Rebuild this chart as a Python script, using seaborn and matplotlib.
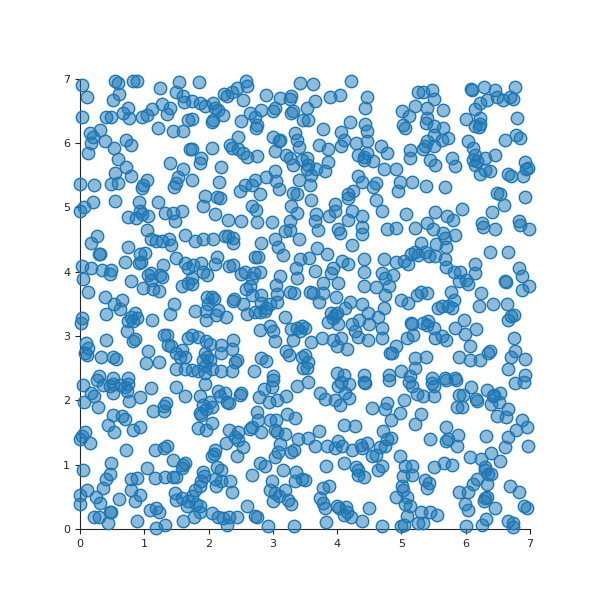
import numpy as np
import pandas as pd
import seaborn as sns
import matplotlib
matplotlib.use("Agg")
import matplotlib.pyplot as plt

# points, split in three horizontal bands (y 7-4.7, 4.7-2.3, 2.3-0)
top_band = [
    (0.04, 6.9), (0.11, 6.71), (0.55, 6.96), (0.59, 6.94), (0.83, 6.97), (0.88, 6.97), (1.25, 6.85),
    (1.54, 6.95), (1.49, 6.79), (1.6, 6.73), (0.61, 6.76), (0.51, 6.67), (0.04, 6.41), (0.41, 6.4),
    (0.49, 6.4), (0.67, 6.47), (0.75, 6.55), (0.77, 6.39), (0.96, 6.41), (1.04, 6.44), (1.12, 6.53),
    (1.27, 6.6), (1.4, 6.54), (1.36, 6.45), (1.68, 6.36), (1.62, 6.63), (1.22, 6.23), (1.44, 6.18),
    (1.6, 6.18), (0.16, 6.16), (0.2, 6.1), (0.17, 6.0), (0.13, 5.85), (0.31, 6.2), (0.39, 6.03),
    (0.53, 5.92), (0.71, 6.05), (0.8, 5.97), (0.6, 5.75), (1.71, 5.9), (0.71, 5.63), (1.4, 5.69),
    (0.54, 5.53), (0.8, 5.49), (0.0, 5.37), (0.22, 5.34), (0.49, 5.37), (0.59, 5.38), (1.04, 5.43),
    (0.98, 5.35), (0.96, 5.3), (1.6, 5.59), (1.53, 5.47), (1.49, 5.38), (1.46, 5.32), (0.0, 4.94),
    (0.06, 5.01), (0.21, 5.09), (0.54, 5.1), (0.92, 5.09), (0.93, 4.94), (1.22, 5.08), (0.74, 4.85),
    (0.87, 4.83), (0.96, 4.9), (1.06, 4.86), (1.32, 4.91), (1.45, 4.91), (1.58, 4.94), (1.48, 4.78),
    # 1.7 - 3.5
    (1.85, 6.95), (2.59, 6.96), (2.6, 6.89), (3.42, 6.93), (2.44, 6.85), (2.36, 6.79), (2.28, 6.73),
    (2.24, 6.76), (2.54, 6.67), (2.89, 6.75), (3.11, 6.7), (3.27, 6.68), (3.29, 6.73), (1.75, 6.65),
    (1.86, 6.62), (1.94, 6.58), (2.07, 6.62), (2.1, 6.54), (2.15, 6.51), (2.07, 6.36), (2.05, 6.33),
    (2.23, 6.44), (1.74, 6.37), (2.5, 6.34), (2.64, 6.46), (2.72, 6.41), (2.75, 6.28), (2.74, 6.23),
    (2.82, 6.52), (3.03, 6.54), (3.01, 6.49), (3.29, 6.47), (3.32, 6.49), (3.47, 6.36), (3.01, 6.1),
    (3.11, 6.05), (3.1, 6.03), (3.34, 6.16), (3.38, 6.05), (2.46, 6.1), (2.33, 5.97), (2.36, 5.92),
    (2.46, 5.9), (2.54, 5.84), (2.6, 5.78), (2.76, 5.8), (1.74, 5.91), (2.05, 5.92), (3.03, 5.87),
    (3.21, 5.82), (3.27, 5.77), (3.32, 5.66), (3.4, 5.94), (3.45, 5.74), (1.89, 5.77), (1.87, 5.69),
    (2.2, 5.63), (1.74, 5.43), (2.17, 5.4), (2.72, 5.43), (2.89, 5.47), (3.03, 5.56), (3.05, 5.41),
    (3.1, 5.29), (2.49, 5.25), (2.57, 5.34), (2.67, 5.34), (2.8, 5.2), (3.4, 5.43), (1.94, 5.17),
    (1.92, 5.02), (2.13, 5.16), (2.18, 5.15), (2.67, 5.02), (2.74, 4.96), (3.32, 5.22), (3.37, 5.2),
    (3.29, 5.02), (3.37, 4.91), (2.1, 4.89), (2.31, 4.81), (2.51, 4.78), (2.75, 4.77), (2.98, 4.77),
    (3.27, 4.78),
    # 3.5 - 5.3
    (3.63, 6.91), (4.21, 6.97), (3.89, 6.71), (4.04, 6.75), (3.65, 6.66), (4.47, 6.72), (4.43, 6.54),
    (3.53, 6.54), (3.54, 6.36), (5.26, 6.8), (5.01, 6.49), (5.11, 6.42), (5.21, 6.57), (5.03, 6.28),
    (5.06, 6.23), (4.2, 6.33), (3.78, 6.21), (4.06, 6.17), (4.1, 6.05), (4.06, 5.96), (4.43, 6.29),
    (4.47, 6.18), (4.46, 6.03), (4.3, 6.0), (3.71, 5.97), (3.86, 5.9), (4.68, 5.96), (4.77, 5.85),
    (5.14, 5.89), (5.14, 5.77), (3.53, 5.77), (3.54, 5.66), (3.53, 5.59), (3.6, 5.51), (3.67, 5.59),
    (3.81, 5.56), (3.85, 5.71), (4.33, 5.82), (4.41, 5.79), (4.46, 5.84), (4.42, 5.73), (4.56, 5.72),
    (4.73, 5.6), (4.92, 5.6), (4.33, 5.49), (4.39, 5.4), (4.56, 5.32), (4.6, 5.38), (3.58, 5.35),
    (4.98, 5.4), (5.16, 5.4), (4.94, 5.25), (4.25, 5.25), (4.17, 5.2), (4.17, 5.15), (3.59, 5.12),
    (4.61, 5.12), (3.96, 5.05), (3.97, 4.94), (3.87, 4.86), (3.67, 4.9), (4.23, 4.94), (4.17, 4.81),
    (4.38, 4.86), (4.7, 4.94), (5.07, 4.89), (3.66, 4.78),
    # 5.3 - 7
    (5.33, 6.8), (5.47, 6.82), (5.51, 6.68), (5.39, 6.54), (5.4, 6.39), (5.38, 6.31), (5.5, 6.26),
    (5.65, 6.52), (6.08, 6.84), (6.09, 6.83), (6.29, 6.87), (6.45, 6.83), (6.48, 6.72), (6.58, 6.67),
    (6.69, 6.72), (6.73, 6.68), (6.77, 6.87), (6.33, 6.67), (6.22, 6.62), (6.14, 6.53), (6.22, 6.39),
    (6.14, 6.26), (6.21, 6.25), (6.22, 6.29), (6.0, 6.37), (6.8, 6.39), (5.5, 6.13), (5.65, 6.23),
    (5.73, 6.08), (5.63, 6.05), (6.78, 6.13), (6.84, 6.08), (6.61, 6.04), (5.39, 6.03), (5.37, 5.95),
    (5.34, 5.9), (5.5, 5.95), (6.04, 6.03), (6.11, 5.92), (6.14, 5.82), (6.17, 5.72), (6.12, 5.73),
    (6.3, 5.77), (6.45, 5.82), (5.45, 5.74), (5.52, 5.66), (5.78, 5.77), (5.83, 5.64), (6.14, 5.66),
    (6.22, 5.52), (6.3, 5.58), (6.37, 5.56), (6.66, 5.52), (6.71, 5.49), (6.89, 5.48), (6.94, 5.59),
    (6.92, 5.7), (6.97, 5.61), (5.38, 5.33), (5.68, 5.32), (6.49, 5.23), (6.53, 5.21), (6.92, 5.16),
    (6.59, 5.03), (5.94, 4.97), (5.52, 4.92), (5.71, 4.87), (5.8, 4.8), (6.4, 4.92), (5.4, 4.75),
    (6.25, 4.75), (6.83, 4.78),
]

middle_band = [
    (0.26, 4.55), (0.18, 4.44), (0.29, 4.27), (0.31, 4.27), (1.04, 4.64), (0.74, 4.39), (1.11, 4.5),
    (1.18, 4.48), (1.27, 4.47), (1.39, 4.5), (1.41, 4.41), (1.63, 4.57), (0.93, 4.27), (1.01, 4.29),
    (0.92, 4.13), (0.95, 4.15), (0.7, 4.15), (1.5, 4.21), (1.63, 4.13), (1.68, 4.06), (0.04, 4.08),
    (0.18, 4.06), (0.35, 4.03), (0.49, 4.03), (0.47, 3.96), (1.1, 3.98), (1.06, 3.95), (1.11, 3.87),
    (1.24, 3.95), (1.29, 4.11), (1.27, 3.92), (0.8, 3.86), (0.05, 3.89), (0.13, 3.69), (0.98, 3.74),
    (1.13, 3.73), (1.23, 3.7), (1.58, 3.77), (1.68, 3.82), (0.39, 3.6), (0.66, 3.56), (0.53, 3.49),
    (0.63, 3.42), (0.41, 3.34), (1.46, 3.49), (1.4, 3.34), (0.03, 3.28), (0.01, 3.2), (0.85, 3.36),
    (0.8, 3.3), (0.75, 3.23), (0.83, 3.23), (0.88, 3.28), (0.73, 3.08), (1.12, 3.25), (0.85, 2.96),
    (0.82, 2.92), (0.41, 2.94), (1.3, 3.02), (1.35, 3.01), (1.37, 2.86), (1.42, 2.85), (0.1, 2.89),
    (0.13, 2.82), (0.08, 2.73), (0.11, 2.71), (0.33, 2.67), (0.52, 2.68), (0.56, 2.64), (1.06, 2.77),
    (1.02, 2.58), (1.23, 2.59), (1.5, 2.73), (1.55, 2.68), (1.58, 2.78), (1.63, 2.68), (1.68, 2.97),
    (1.49, 2.48), (1.63, 2.48), (0.29, 2.37), (0.52, 2.34), (0.74, 2.34),
    # 1.7 - 3.5
    (1.79, 4.47), (1.92, 4.5), (2.07, 4.51), (2.25, 4.55), (2.31, 4.56), (2.38, 4.52), (2.38, 4.44),
    (2.81, 4.44), (3.03, 4.51), (3.08, 4.39), (3.16, 4.26), (3.19, 4.63), (3.27, 4.64), (3.4, 4.5),
    (2.13, 4.22), (2.1, 4.12), (2.72, 4.23), (2.77, 4.23), (3.42, 4.2), (1.76, 4.11), (1.89, 4.13),
    (1.92, 4.0), (1.97, 3.95), (2.32, 4.09), (2.38, 4.11), (2.51, 3.96), (2.57, 4.0), (2.7, 3.98),
    (2.8, 4.0), (2.67, 3.9), (2.64, 3.77), (3.11, 3.93), (3.36, 4.06), (3.37, 3.9), (1.74, 3.9),
    (1.74, 3.8), (2.58, 3.73), (2.67, 3.64), (3.05, 3.79), (3.07, 3.65), (3.27, 3.69), (3.33, 3.67),
    (1.97, 3.61), (2.05, 3.61), (2.08, 3.58), (1.99, 3.49), (2.39, 3.58), (2.38, 3.55), (2.54, 3.5),
    (2.82, 3.64), (2.82, 3.51), (2.89, 3.44), (2.96, 3.49), (3.07, 3.53), (1.79, 3.39), (1.96, 3.39),
    (2.15, 3.41), (2.12, 3.32), (2.27, 3.29), (1.96, 3.25), (2.6, 3.34), (2.72, 3.37), (2.88, 3.39),
    (2.8, 3.37), (3.19, 3.29), (2.8, 3.1), (2.95, 3.16), (3.0, 3.08), (3.03, 2.92), (3.29, 3.11),
    (3.37, 3.12), (3.42, 3.08), (3.46, 3.15), (3.32, 2.94), (1.74, 3.02), (1.84, 2.99), (1.96, 2.92),
    (2.02, 2.87), (2.2, 2.86), (2.38, 2.94), (2.37, 2.79), (2.2, 2.73), (1.94, 2.73), (1.97, 2.68),
    (1.92, 2.63), (2.02, 2.63), (1.94, 2.53), (2.05, 2.48), (1.84, 2.45), (1.94, 2.42), (2.41, 2.6),
    (2.44, 2.63), (2.2, 2.45), (2.36, 2.45), (2.82, 2.66), (2.89, 2.61), (3.21, 2.76), (3.25, 2.71),
    (3.45, 2.68), (3.47, 2.5), (2.7, 2.45), (3.01, 2.37), (1.74, 2.47),
    # 3.5 - 5.3
    (3.7, 4.64), (4.02, 4.67), (4.04, 4.6), (4.39, 4.69), (4.38, 4.58), (4.78, 4.67), (4.92, 4.68),
    (5.21, 4.68), (4.23, 4.42), (3.68, 4.37), (3.84, 4.27), (3.56, 4.21), (4.07, 4.17), (4.17, 4.12),
    (4.41, 4.2), (4.42, 4.0), (4.73, 4.2), (4.92, 4.15), (5.04, 4.16), (5.1, 4.12), (5.15, 4.27),
    (5.21, 4.3), (5.26, 4.26), (3.66, 4.01), (3.94, 4.06), (3.91, 3.98), (4.02, 3.82), (4.69, 3.98),
    (4.74, 3.9), (4.87, 3.95), (4.8, 3.77), (3.78, 3.82), (4.41, 3.77), (4.61, 3.76), (3.58, 3.69),
    (3.63, 3.67), (3.78, 3.67), (3.98, 3.6), (3.71, 3.53), (4.74, 3.64), (5.0, 3.56), (5.1, 3.51),
    (5.24, 3.64), (4.38, 3.49), (4.2, 3.53), (4.12, 3.44), (4.73, 3.44), (3.91, 3.36), (3.96, 3.33),
    (3.99, 3.36), (3.94, 3.28), (3.86, 3.22), (4.02, 3.18), (4.48, 3.36), (4.64, 3.29), (4.34, 3.25),
    (4.49, 3.18), (4.23, 3.18), (5.15, 3.2), (5.17, 3.18), (3.5, 3.12), (4.69, 3.13), (4.28, 3.08),
    (4.33, 2.99), (4.48, 2.93), (4.69, 2.97), (5.18, 3.02), (5.08, 2.97), (3.6, 2.9), (3.76, 2.97),
    (3.94, 2.93), (4.06, 2.97), (3.99, 2.85), (4.16, 2.8), (4.92, 2.84), (4.82, 2.73), (4.86, 2.73),
    (3.5, 2.71), (3.55, 2.6), (3.53, 2.5), (5.21, 2.66), (5.21, 2.5), (3.99, 2.42), (4.11, 2.4),
    (4.41, 2.4), (4.8, 2.4), (5.0, 2.45), (5.13, 2.37),
    # 5.3 - 7
    (6.27, 4.7), (6.45, 4.67), (6.84, 4.73), (6.99, 4.67), (5.49, 4.67), (5.65, 4.6), (5.68, 4.52),
    (5.83, 4.57), (5.54, 4.43), (5.7, 4.39), (5.31, 4.44), (5.37, 4.31), (5.43, 4.25), (5.52, 4.25),
    (6.38, 4.3), (6.66, 4.31), (5.68, 4.19), (5.7, 4.07), (5.81, 4.0), (5.91, 4.0), (5.9, 3.85),
    (6.01, 3.87), (6.04, 3.8), (6.14, 4.12), (6.14, 3.98), (6.83, 4.06), (6.87, 3.93), (6.88, 3.72),
    (6.99, 3.77), (6.61, 3.85), (6.63, 3.84), (5.31, 3.69), (5.39, 3.67), (5.77, 3.68), (5.81, 3.56),
    (6.23, 3.67), (5.57, 3.43), (5.63, 3.46), (5.73, 3.46), (5.78, 3.43), (6.2, 3.46), (6.42, 3.5),
    (6.64, 3.5), (6.66, 3.25), (6.71, 3.31), (6.75, 3.32), (5.34, 3.2), (5.42, 3.23), (5.39, 3.17),
    (5.5, 3.12), (5.52, 2.97), (5.63, 3.0), (5.7, 2.94), (5.98, 3.25), (5.83, 3.12), (5.99, 3.03),
    (6.16, 3.11), (6.75, 2.97), (6.07, 2.84), (6.35, 2.73), (6.38, 2.76), (6.76, 2.77), (6.7, 2.68),
    (6.92, 2.64), (5.38, 2.68), (5.9, 2.67), (6.07, 2.63), (6.22, 2.62), (6.66, 2.48), (6.92, 2.39),
    (5.47, 2.34), (5.68, 2.34), (5.83, 2.34),
]

bottom_band = [
    (0.05, 2.24), (0.26, 2.32), (0.36, 2.24), (0.47, 2.22), (0.51, 2.26), (0.52, 2.12), (0.62, 2.24),
    (0.7, 2.21), (0.73, 2.14), (0.75, 2.26), (0.77, 1.99), (0.94, 2.05), (1.11, 2.19), (1.5, 2.2),
    (1.63, 2.06), (0.18, 2.11), (0.22, 2.06), (0.06, 1.97), (0.28, 1.89), (0.52, 1.77), (0.65, 1.75),
    (0.7, 1.71), (1.14, 1.83), (1.3, 1.91), (1.34, 1.95), (1.31, 1.83), (0.44, 1.62), (0.53, 1.51),
    (0.82, 1.54), (0.93, 1.58), (0.03, 1.44), (0.08, 1.51), (0.0, 1.39), (0.15, 1.34), (0.72, 1.22),
    (1.17, 1.22), (1.3, 1.26), (1.36, 1.29), (1.45, 1.07), (1.63, 1.02), (1.58, 0.94), (1.61, 0.99),
    (0.05, 0.92), (0.49, 1.02), (0.47, 0.86), (0.41, 0.77), (1.04, 0.94), (0.8, 0.77), (0.88, 0.79),
    (1.17, 0.79), (1.32, 0.81), (1.45, 0.81), (1.49, 0.8), (0.36, 0.63), (0.11, 0.6), (0.0, 0.53),
    (0.25, 0.49), (0.32, 0.41), (0.0, 0.38), (0.8, 0.6), (0.93, 0.53), (0.85, 0.43), (0.61, 0.46),
    (1.48, 0.56), (1.5, 0.45), (1.58, 0.48), (1.68, 0.43), (1.66, 0.35), (0.49, 0.27), (0.47, 0.26),
    (0.22, 0.19), (0.3, 0.18), (0.44, 0.09), (0.88, 0.12), (1.09, 0.3), (1.18, 0.32), (1.23, 0.26),
    (1.19, 0.01), (1.32, 0.06), (1.6, 0.12),
    # 1.7 - 3.5
    (1.94, 2.26), (1.87, 2.07), (1.92, 1.93), (1.86, 1.8), (1.89, 1.77), (1.96, 1.86), (2.05, 1.9),
    (2.02, 1.98), (2.14, 2.15), (2.25, 2.11), (2.32, 1.96), (2.29, 1.98), (2.18, 2.06), (2.5, 2.12),
    (2.49, 2.08), (2.86, 2.17), (2.99, 2.2), (2.79, 2.05), (2.94, 1.97), (3.07, 2.0), (3.21, 2.07),
    (3.37, 2.22), (3.01, 2.31), (2.05, 1.65), (1.84, 1.57), (1.96, 1.54), (2.75, 1.81), (2.77, 1.7),
    (2.67, 1.59), (2.64, 1.55), (2.82, 1.5), (2.96, 1.7), (3.05, 1.69), (3.03, 1.54), (3.06, 1.5),
    (3.19, 1.48), (3.22, 1.79), (3.34, 1.72), (2.32, 1.53), (2.46, 1.5), (2.41, 1.43), (2.46, 1.38),
    (2.53, 1.28), (2.27, 1.34), (2.1, 1.23), (2.08, 1.17), (2.06, 1.13), (2.45, 1.13), (3.39, 1.4),
    (3.11, 1.32), (3.08, 1.2), (3.03, 1.12), (3.33, 1.23), (3.29, 1.2), (2.8, 1.02), (2.88, 0.98),
    (3.16, 0.92), (3.36, 0.88), (3.45, 0.77), (3.34, 0.74), (2.13, 0.96), (2.2, 0.91), (1.92, 0.89),
    (1.93, 0.82), (1.89, 0.74), (1.86, 0.66), (1.79, 0.61), (2.1, 0.77), (2.11, 0.67), (2.2, 0.74),
    (2.34, 0.75), (2.36, 0.58), (2.67, 0.84), (2.98, 0.74), (2.95, 0.61), (3.03, 0.56), (3.1, 0.51),
    (3.19, 0.61), (3.01, 0.43), (3.24, 0.45), (3.29, 0.38), (1.74, 0.51), (1.8, 0.38), (1.87, 0.35),
    (1.87, 0.27), (1.77, 0.18), (2.05, 0.25), (2.14, 0.19), (2.22, 0.17), (2.28, 0.06), (2.32, 0.18),
    (2.45, 0.18), (2.6, 0.35), (2.72, 0.2), (2.75, 0.18), (2.93, 0.04), (3.33, 0.04),
    # 3.5 - 5.3
    (3.55, 2.29), (4.02, 2.22), (4.06, 2.29), (4.18, 2.26), (4.41, 2.29), (4.43, 2.27), (4.8, 2.32),
    (5.11, 2.29), (5.16, 2.22), (5.24, 2.09), (3.73, 2.11), (3.81, 2.02), (3.96, 2.0), (4.04, 1.93),
    (4.12, 2.11), (4.18, 2.03), (4.54, 1.88), (4.74, 1.86), (4.78, 1.95), (4.98, 1.8), (4.84, 1.69),
    (5.04, 2.01), (5.21, 1.63), (4.1, 1.62), (4.27, 1.6), (3.71, 1.52), (3.55, 1.41), (3.65, 1.29),
    (3.84, 1.29), (3.97, 1.26), (4.02, 1.36), (4.07, 1.29), (4.23, 1.23), (4.37, 1.31), (4.38, 1.26),
    (4.46, 1.33), (4.54, 1.13), (4.61, 1.15), (4.64, 0.92), (4.7, 0.98), (4.72, 1.52), (4.77, 1.39),
    (4.84, 1.41), (4.75, 1.29), (4.67, 1.28), (4.98, 1.13), (5.05, 0.97), (5.17, 0.98), (5.17, 0.83),
    (5.03, 0.82), (5.01, 0.67), (5.03, 0.6), (4.92, 0.49), (5.08, 0.5), (5.13, 0.35), (5.05, 0.39),
    (5.08, 0.2), (5.04, 0.06), (5.0, 0.05), (5.26, 0.09), (3.82, 0.98), (4.1, 1.03), (4.3, 0.96),
    (4.33, 0.92), (4.32, 0.84), (4.42, 0.81), (3.5, 0.76), (3.78, 0.63), (3.87, 0.66), (3.73, 0.48),
    (3.78, 0.41), (3.81, 0.32), (3.99, 0.36), (4.03, 0.32), (4.13, 0.34), (4.15, 0.26), (4.1, 0.22),
    (4.22, 0.18), (4.39, 0.13), (4.49, 0.32), (3.82, 0.1), (4.7, 0.05),
    # 5.3 - 7
    (5.47, 2.27), (5.5, 2.22), (5.51, 2.07), (5.33, 2.07), (5.69, 2.31), (5.85, 2.31), (6.08, 2.21),
    (6.33, 2.16), (6.44, 2.08), (6.53, 2.12), (6.77, 2.27), (6.91, 2.29), (5.9, 2.08), (5.96, 2.08),
    (6.17, 1.99), (6.16, 2.02), (6.39, 1.94), (6.42, 2.07), (6.52, 1.97), (6.65, 1.86), (6.48, 1.76),
    (6.63, 1.74), (5.86, 1.9), (5.94, 1.9), (6.87, 1.69), (6.78, 1.54), (6.95, 1.58), (5.31, 1.79),
    (5.7, 1.59), (5.44, 1.4), (5.69, 1.36), (5.73, 1.39), (5.87, 1.29), (5.88, 1.46), (6.31, 1.45),
    (6.65, 1.43), (6.61, 1.28), (6.97, 1.29), (6.07, 1.12), (6.23, 1.09), (6.39, 1.18), (6.53, 1.06),
    (5.5, 0.96), (5.66, 1.03), (5.78, 0.99), (6.3, 0.96), (6.3, 0.91), (6.35, 0.86), (6.39, 0.86),
    (5.37, 0.76), (5.43, 0.71), (5.39, 0.63), (6.17, 0.78), (6.11, 0.69), (6.03, 0.58), (5.89, 0.57),
    (6.33, 0.69), (6.69, 0.66), (6.82, 0.58), (6.3, 0.48), (6.28, 0.43), (6.33, 0.49), (6.45, 0.32),
    (5.99, 0.38), (6.04, 0.3), (6.91, 0.35), (6.95, 0.32), (5.31, 0.27), (5.44, 0.27), (5.55, 0.22),
    (5.33, 0.09), (6.32, 0.15), (6.25, 0.06), (6.66, 0.13), (6.74, 0.09), (6.73, 0.03), (6.01, 0.04),
]

df = pd.DataFrame(top_band + middle_band + bottom_band, columns=["x", "y"])

sns.set_style("ticks")
fig, ax = plt.subplots(figsize=(6.1, 6.1), dpi=100)
ax.set_position([0.131, 0.133, 0.738, 0.738])

sns.scatterplot(data=df, x="x", y="y", ax=ax, s=80,
                facecolor=(0.12, 0.47, 0.71, 0.5), edgecolor="#1f77b4", linewidth=1,
                clip_on=False, zorder=3)

ax.set_xlim(0, 7)
ax.set_ylim(0, 7)
ax.set_xticks(range(8))
ax.set_yticks(range(8))
ax.set_xlabel("")
ax.set_ylabel("")
ax.tick_params(labelsize=8)
sns.despine(ax=ax)

fig.savefig("out.png", dpi=100)
